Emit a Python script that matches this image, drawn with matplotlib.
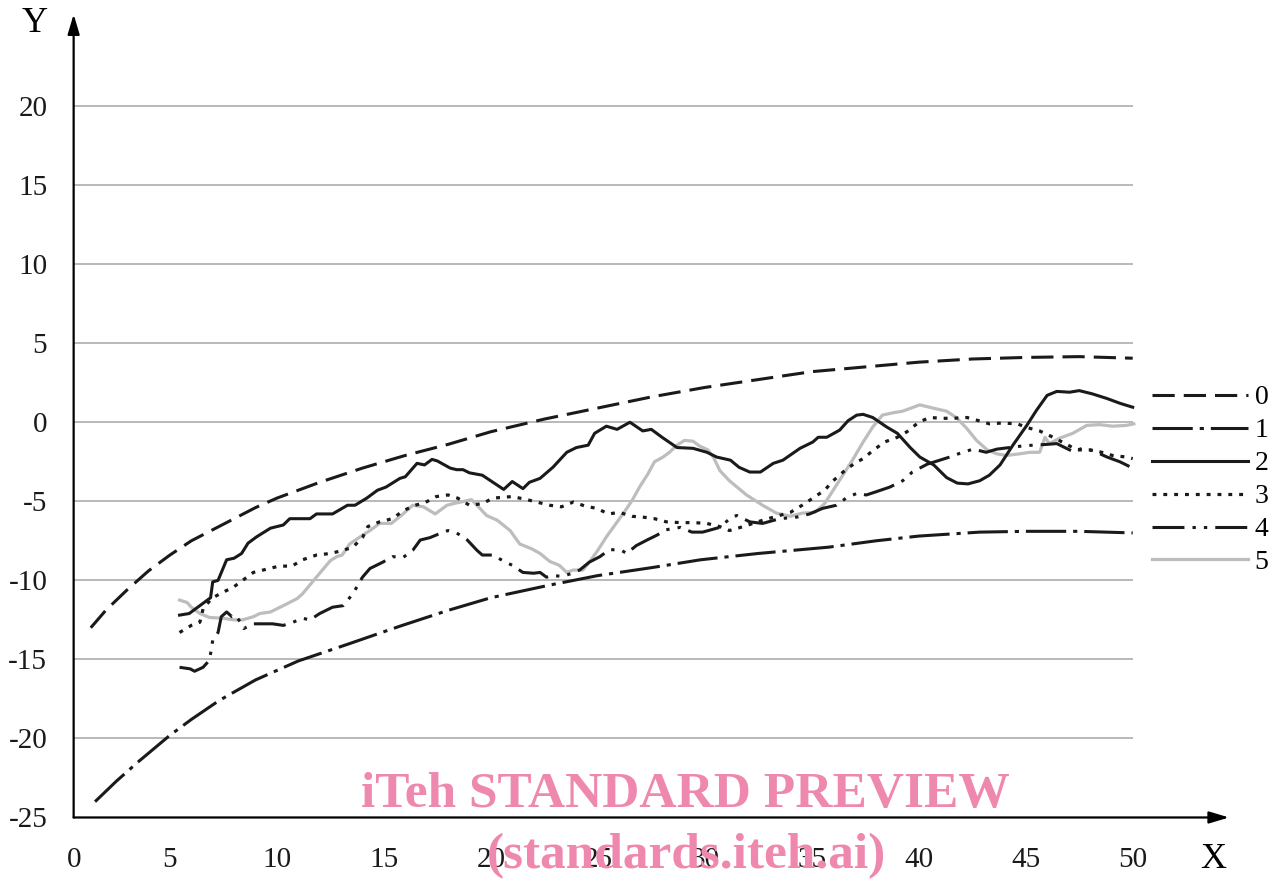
import matplotlib
matplotlib.use("Agg")
import matplotlib.pyplot as plt

plt.rcParams["font.family"] = ["Liberation Serif", "DejaVu Serif"]
plt.rcParams["lines.scale_dashes"] = False

# envelope curves 0 (upper) and 1 (lower)
x0 = [1.3, 2, 3, 4, 5, 6, 7, 8, 9, 10, 12, 14, 16, 18, 20, 22.5, 25, 27.5,
      30, 32.5, 35, 37.5, 40, 42.5, 45, 47.5, 50]
y0 = [-13.0, -11.9, -10.6, -9.4, -8.4, -7.5, -6.8, -6.1, -5.4, -4.8, -3.8,
      -2.9, -2.1, -1.4, -0.6, 0.2, 0.9, 1.6, 2.2, 2.7, 3.2, 3.5, 3.8, 4.0,
      4.1, 4.15, 4.05]
x1 = [1.5, 2.5, 3.5, 5, 6, 7.3, 9, 11, 13.4, 15.75, 18, 20, 22.75, 25, 27.5,
      29.8, 32.5, 35.8, 38, 40, 42.85, 45, 47.5, 50]
y1 = [-24.0, -22.7, -21.5, -19.8, -18.8, -17.6, -16.3, -15.1, -14.0, -12.9,
      -11.9, -11.1, -10.3, -9.7, -9.2, -8.7, -8.3, -7.9, -7.5, -7.2, -6.95,
      -6.9, -6.9, -7.0]

x2 = [5.45, 5.9, 6.4, 6.9, 7.0, 7.25, 7.65, 8.0, 8.35, 8.65, 9.05, 9.7, 10.3,
      10.6, 11.55, 11.85, 12.6, 13.3, 13.65, 14.2, 14.7, 15.1, 15.75, 16.0,
      16.55, 16.9, 17.25, 17.5, 18.1, 18.4, 18.7, 19.0, 19.6, 20.1, 20.6,
      21.0, 21.5, 21.8, 22.3, 22.9, 23.55, 24.0, 24.55, 24.85, 25.4, 25.9,
      26.5, 27.1, 27.5, 28.0, 28.7, 29.45, 30.1, 30.55, 31.2, 31.6, 32.1,
      32.6, 33.2, 33.65, 34.45, 35.05, 35.3, 35.7, 36.3, 36.7, 37.1, 37.4,
      37.85, 38.5, 39.0, 39.6, 40.05, 40.7, 41.3, 41.8, 42.3, 42.85, 43.3,
      43.8, 44.4, 45.05, 45.5, 46.0, 46.45, 47.05, 47.5, 48.1, 48.8, 49.4,
      50.0]
y2 = [-12.2, -12.1, -11.6, -11.1, -10.1, -10.0, -8.7, -8.6, -8.3, -7.65,
      -7.25, -6.7, -6.5, -6.1, -6.1, -5.8, -5.8, -5.25, -5.25, -4.8, -4.3,
      -4.1, -3.55, -3.45, -2.6, -2.7, -2.35, -2.45, -2.9, -3.0, -3.0, -3.2,
      -3.35, -3.8, -4.25, -3.75, -4.2, -3.8, -3.55, -2.85, -1.9, -1.6, -1.45,
      -0.7, -0.25, -0.45, 0.0, -0.55, -0.45, -0.95, -1.6, -1.65, -1.9, -2.2,
      -2.4, -2.85, -3.15, -3.15, -2.6, -2.4, -1.65, -1.25, -0.95, -0.95,
      -0.5, 0.1, 0.45, 0.5, 0.3, -0.3, -0.7, -1.6, -2.2, -2.7, -3.5, -3.85,
      -3.9, -3.7, -3.35, -2.7, -1.45, -0.2, 0.75, 1.7, 1.95, 1.9, 2.0, 1.8,
      1.5, 1.2, 0.95]

x3 = [5.45, 6.0, 6.4, 6.55, 6.95, 7.4, 7.95, 8.4, 8.9, 9.5, 10.1, 10.7, 11.2,
      11.85, 12.5, 13.1, 13.55, 14.0, 14.25, 14.8, 15.4, 15.9, 16.45, 16.9,
      17.45, 18.0, 18.45, 19.0, 19.6, 20.1, 21.0, 21.7, 22.3, 22.75, 23.3,
      23.85, 24.4, 24.95, 25.5, 26.0, 26.6, 27.1, 27.65, 28.2, 28.85, 29.5,
      30.1, 30.7, 31.15, 31.8, 32.7, 34.0, 34.55, 35.05, 35.6, 36.0, 36.55,
      37.0, 37.4, 37.85, 38.4, 39.0, 39.45, 40.0, 40.5, 41.1, 41.6, 42.25,
      42.8, 43.3, 43.9, 44.6, 45.1, 45.65, 46.2, 46.7, 47.4, 48.0, 48.55,
      49.05, 49.7, 50.0]
y3 = [-13.3, -12.85, -12.65, -11.8, -11.15, -10.8, -10.45, -10.0, -9.5, -9.3,
      -9.1, -9.1, -8.7, -8.4, -8.3, -8.1, -7.9, -7.3, -6.6, -6.3, -6.1, -5.6,
      -5.25, -5.1, -4.7, -4.6, -4.8, -5.25, -5.15, -4.8, -4.7, -4.9, -5.1,
      -5.25, -5.35, -5.05, -5.3, -5.45, -5.8, -5.7, -5.95, -6.0, -6.1, -6.3,
      -6.35, -6.35, -6.4, -6.6, -6.85, -6.6, -6.2, -5.7, -5.25, -4.8, -4.3,
      -3.7, -3.05, -2.6, -2.3, -1.8, -1.25, -0.95, -0.6, 0.0, 0.3, 0.25,
      0.25, 0.3, 0.1, -0.1, -0.05, -0.1, -0.35, -0.55, -0.9, -1.25, -1.75,
      -1.75, -1.9, -2.1, -2.2, -2.3]

x4 = [5.45, 5.95, 6.15, 6.55, 6.85, 7.0, 7.25, 7.4, 7.65, 7.9, 8.05, 8.3,
      8.45, 8.9, 9.35, 9.8, 10.3, 10.75, 11.2, 11.55, 12.0, 12.6, 13.1, 13.55,
      14.0, 14.35, 14.95, 15.4, 15.9, 16.35, 16.7, 17.15, 17.6, 18.0, 18.4,
      18.9, 19.35, 19.6, 20.1, 20.55, 21.0, 21.5, 22.0, 22.3, 22.6, 22.9,
      23.35, 23.8, 24.15, 24.6, 25.1, 25.55, 26.1, 26.35, 26.8, 27.3, 27.75,
      28.2, 28.85, 29.4, 29.9, 30.7, 31.25, 31.5, 32.1, 32.7, 33.5, 34.3,
      34.9, 35.5, 36.15, 36.6, 37.1, 37.55, 38.0, 38.65, 39.25, 39.7, 40.4,
      41.45, 42.05, 42.55, 43.15, 43.65, 44.25, 44.85, 45.35, 46.0, 46.45,
      46.9, 47.2, 47.65, 48.15, 48.8, 49.4, 50.0]
y4 = [-15.5, -15.6, -15.75, -15.5, -15.05, -13.8, -13.3, -12.3, -12.0, -12.3,
      -12.2, -12.65, -13.05, -12.75, -12.75, -12.75, -12.85, -12.65, -12.4,
      -12.5, -12.1, -11.7, -11.6, -10.85, -9.8, -9.25, -8.85, -8.5, -8.55,
      -8.1, -7.45, -7.3, -7.05, -6.85, -7.0, -7.45, -8.1, -8.4, -8.4, -8.75,
      -9.05, -9.5, -9.55, -9.5, -9.8, -9.7, -9.75, -9.55, -9.35, -8.85, -8.5,
      -8.05, -8.1, -8.3, -7.8, -7.45, -7.15, -6.8, -6.65, -6.95, -6.95, -6.65,
      -6.0, -5.9, -6.3, -6.4, -6.1, -6.0, -5.8, -5.45, -5.25, -4.8, -4.5,
      -4.6, -4.4, -4.1, -3.7, -3.15, -2.65, -2.2, -1.9, -1.7, -1.9, -1.7,
      -1.6, -1.5, -1.45, -1.4, -1.35, -1.65, -1.85, -1.65, -1.8, -2.2, -2.5,
      -2.9]

x5 = [5.45, 5.8, 6.0, 6.4, 6.85, 7.5, 7.95, 8.4, 8.9, 9.2, 9.7, 10.0, 10.45,
      10.95, 11.2, 11.6, 12.0, 12.5, 12.8, 13.05, 13.4, 14.0, 14.35, 14.8,
      15.35, 15.9, 16.35, 16.85, 17.4, 17.95, 18.4, 19.1, 19.35, 19.8, 20.3,
      20.9, 21.35, 21.9, 22.3, 22.75, 23.2, 23.55, 23.85, 24.3, 24.6, 25.0,
      25.4, 25.8, 26.2, 26.6, 26.95, 27.35, 27.65, 28.05, 28.35, 28.7, 29.05,
      29.45, 29.75, 30.15, 30.4, 30.7, 31.15, 31.95, 32.7, 33.35, 34.0, 34.55,
      35.15, 35.6, 36.0, 36.45, 36.9, 37.4, 37.85, 38.3, 38.8, 39.25, 39.65,
      40.05, 40.65, 41.3, 41.75, 42.25, 42.7, 43.2, 43.65, 44.1, 44.7, 45.2,
      45.65, 45.9, 46.1, 46.6, 47.2, 47.85, 48.45, 49.05, 49.7, 50.05]
y5 = [-11.25, -11.4, -11.7, -12.1, -12.35, -12.4, -12.5, -12.5, -12.3, -12.1,
      -12.0, -11.8, -11.5, -11.15, -10.85, -10.2, -9.55, -8.75, -8.5, -8.4,
      -7.7, -7.15, -6.85, -6.4, -6.4, -5.8, -5.25, -5.35, -5.8, -5.25, -5.1,
      -4.9, -5.25, -5.9, -6.2, -6.85, -7.7, -8.0, -8.3, -8.8, -9.05, -9.5,
      -9.35, -9.35, -8.85, -8.1, -7.25, -6.5, -5.75, -4.95, -4.1, -3.25,
      -2.5, -2.2, -1.9, -1.45, -1.15, -1.2, -1.5, -1.75, -2.2, -3.05, -3.7,
      -4.6, -5.25, -5.75, -5.95, -5.75, -5.7, -5.15, -4.3, -3.35, -2.4,
      -1.25, -0.3, 0.45, 0.6, 0.7, 0.9, 1.1, 0.9, 0.7, 0.3, -0.4, -1.15,
      -1.75, -2.0, -2.1, -2.0, -1.9, -1.9, -0.95, -1.35, -1.0, -0.7, -0.2,
      -0.15, -0.25, -0.2, -0.1]

labels = ["0", "1", "2", "3", "4", "5"]
y_ticks = [-25, -20, -15, -10, -5, 0, 5, 10, 15, 20]
x_ticks = [0, 5, 10, 15, 20, 25, 30, 35, 40, 45, 50]

# line looks (dash lengths in points)
styles = [
    dict(color="#1a1a1a", lw=2.2, ls=(0, (16, 6.5))),
    dict(color="#1a1a1a", lw=2.2, ls=(0, (29, 5, 3, 5))),
    dict(color="#1a1a1a", lw=2.2, ls="-"),
    dict(color="#1a1a1a", lw=2.3, ls=(0, (2.8, 5.0))),
    dict(color="#1a1a1a", lw=2.2, ls=(0, (23, 5.8, 2.4, 5.8, 2.4, 5.8))),
    dict(color="#bdbdbd", lw=2.3, ls="-"),
]
series = [(x0, y0), (x1, y1), (x2, y2), (x3, y3), (x4, y4), (x5, y5)]

fig = plt.figure(figsize=(12.83, 8.81), dpi=100)
ax = fig.add_axes([0.0574, 0.0721, 0.9005, 0.9116])
x_min, x_max = 0.5, 54.5
y_min, y_max = -25, 25.8
ax.set_xlim(x_min, x_max)
ax.set_ylim(y_min, y_max)
for s in ax.spines.values():
    s.set_visible(False)

# horizontal grid
ax.hlines([v for v in y_ticks if v > y_min], x_min, 50, color="#a6a6a6",
          lw=1.1, zorder=1)

handles = []
for (xs, ys), st, lab in zip(series, styles, labels):
    z = 2 if lab == "5" else 3
    ln, = ax.plot(xs, ys, color=st["color"], lw=st["lw"], linestyle=st["ls"],
                  solid_joinstyle="round", label=lab, zorder=z)
    handles.append(ln)

# axes with arrows
arrow = dict(arrowstyle="-|>,head_length=1.0,head_width=0.3", color="black",
             lw=1.6, mutation_scale=12, shrinkA=0, shrinkB=0)
ax.annotate("", xy=(x_max, y_min), xytext=(x_min, y_min), arrowprops=arrow,
            annotation_clip=False)
ax.annotate("", xy=(x_min, y_max), xytext=(x_min, y_min), arrowprops=arrow,
            annotation_clip=False)

ax.set_yticks(y_ticks)
ax.set_yticklabels([str(v) for v in y_ticks])
ax.set_xticks([x_min] + x_ticks[1:])
ax.set_xticklabels([str(v) for v in x_ticks])
ax.tick_params(axis="both", length=0, labelsize=21, colors="#1a1a1a")
ax.tick_params(axis="y", pad=19)
ax.tick_params(axis="x", pad=21)

fig.text(35 / 1283, 1 - 23 / 881, "Y", fontsize=26, ha="center", va="center")
fig.text(1213 / 1283, 1 - 859 / 881, "X", fontsize=26, ha="center",
         va="center")

ax.legend(handles=handles, labels=labels, loc="upper left",
          bbox_to_anchor=(1152 / 1283, 1 - 385 / 881),
          bbox_transform=fig.transFigure, frameon=False, fontsize=20,
          handlelength=3.45, handletextpad=0.25, labelspacing=0.27,
          borderpad=0, borderaxespad=0)

# watermark
pink = "#ef88ae"
fig.text(685 / 1283, 1 - 795 / 881, "iTeh STANDARD PREVIEW", fontsize=37,
         fontweight="bold", color=pink, ha="center", va="center", zorder=10)
fig.text(686 / 1283, 1 - 856 / 881, "(standards.iteh.ai)", fontsize=37,
         fontweight="bold", color=pink, ha="center", va="center", zorder=10)

fig.savefig("out.png", dpi=100)
